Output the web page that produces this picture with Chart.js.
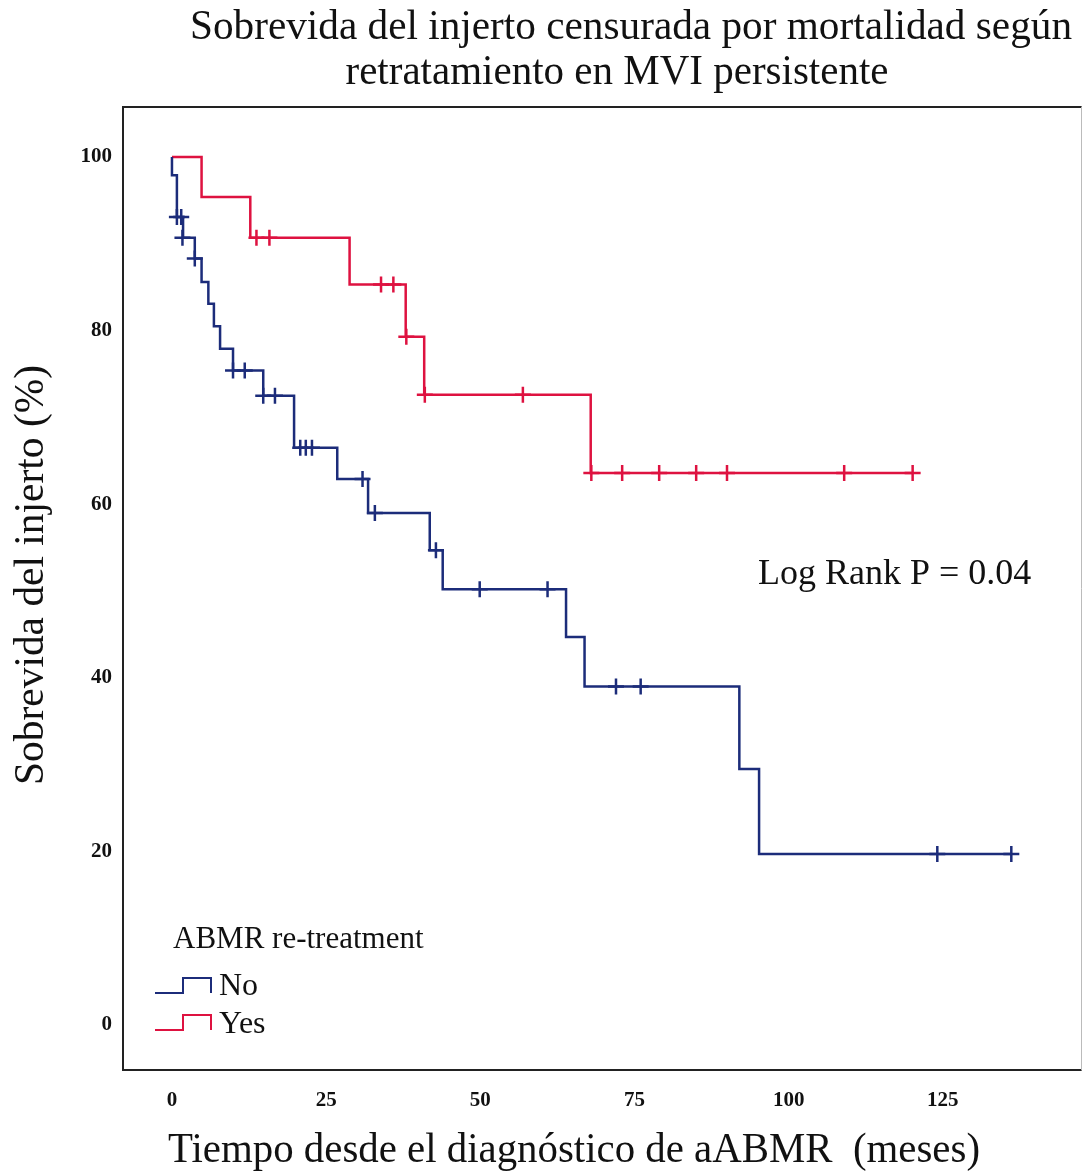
<!DOCTYPE html>
<html>
<head>
<meta charset="utf-8">
<script src="https://cdn.jsdelivr.net/npm/chart.js@4.4.1/dist/chart.umd.min.js"></script>
<style>
  html, body { margin: 0; padding: 0; background: #ffffff; }
  #wrap { width: 1083px; height: 1173px; }
</style>
</head>
<body>
<div id="wrap"><canvas id="km" width="1083" height="1173"></canvas></div>
<script>
// Kaplan-Meier steps: time (months) and graft survival (%) after each event
const noTimes     = [0, 0, 0.8, 1.8, 3.7, 4.8, 5.9, 6.8, 7.8, 9.9, 14.8, 19.8, 26.8, 31.8, 41.8, 43.9, 63.9, 66.9, 92.0, 95.2, 136.1];
const noSurvival  = [100, 97.9, 93.1, 90.7, 88.3, 85.6, 83.1, 80.5, 77.9, 75.4, 72.5, 66.5, 62.9, 59.0, 54.7, 50.2, 44.7, 39.0, 29.5, 19.7, 19.7];
const yesTimes    = [0, 4.8, 12.7, 28.8, 37.9, 40.9, 67.9, 120.1];
const yesSurvival = [100, 95.4, 90.7, 85.3, 79.3, 72.6, 63.6, 63.6];

// Censored observations
const noCensorTimes     = [0.8, 1.5, 1.7, 3.7, 9.9, 11.8, 14.8, 16.7, 20.8, 21.7, 22.7, 30.9, 32.9, 42.8, 49.9, 60.9, 72.0, 76.0, 124.1, 136.1];
const noCensorSurvival  = [93.1, 93.1, 90.7, 88.3, 75.4, 75.4, 72.5, 72.5, 66.5, 66.5, 66.5, 62.9, 59.0, 54.7, 50.2, 50.2, 39.0, 39.0, 19.7, 19.7];
const yesCensorTimes    = [13.7, 15.8, 33.9, 35.9, 38.0, 41.0, 56.9, 68.0, 73.0, 79.0, 85.0, 90.0, 109.0, 120.1];
const yesCensorSurvival = [90.7, 90.7, 85.3, 85.3, 79.3, 72.6, 72.6, 63.6, 63.6, 63.6, 63.6, 63.6, 63.6, 63.6];

// Axis ticks
const xTickValues = [0, 25, 50, 75, 100, 125];
const yTickValues = [0, 20, 40, 60, 80, 100];

const groupLabels = ['No', 'Yes'];

const BLUE = '#1c2c7a';
const RED = '#de1240';
const SERIF = '"Liberation Serif", "Times New Roman", serif';

const toPoints = (xs, ys) => xs.map((x, i) => ({ x: x, y: ys[i] }));

// Titles, frame, legend and annotation drawn on top of the chart
const decorations = {
  id: 'decorations',
  afterDraw(chart) {
    const ctx = chart.ctx;
    const a = chart.chartArea;
    ctx.save();

    // plot frame
    ctx.lineCap = 'square';
    ctx.strokeStyle = '#222';
    ctx.lineWidth = 2;
    ctx.beginPath();
    ctx.moveTo(a.right, a.top);
    ctx.lineTo(a.left, a.top);
    ctx.lineTo(a.left, a.bottom);
    ctx.lineTo(a.right, a.bottom);
    ctx.stroke();
    ctx.strokeStyle = '#bbbbbb';
    ctx.lineWidth = 1;
    ctx.beginPath();
    ctx.moveTo(a.right + 0.5, a.top);
    ctx.lineTo(a.right + 0.5, a.bottom);
    ctx.stroke();

    ctx.fillStyle = '#111';
    ctx.textAlign = 'center';
    ctx.textBaseline = 'middle';

    // chart title
    ctx.font = '43px ' + SERIF;
    ctx.fillText('Sobrevida del injerto censurada por mortalidad según', 631, 28, 882);
    ctx.fillText('retratamiento en MVI persistente', 617, 73, 543);

    // x axis title
    ctx.font = '42px ' + SERIF;
    ctx.fillText('Tiempo desde el diagnóstico de aABMR  (meses)', 574, 1151, 812);

    // y axis title
    ctx.save();
    ctx.translate(32, 575);
    ctx.rotate(-Math.PI / 2);
    ctx.font = '42px ' + SERIF;
    ctx.fillText('Sobrevida del injerto (%)', 0, 0, 420);
    ctx.restore();

    // log-rank annotation
    ctx.textAlign = 'left';
    ctx.font = '36px ' + SERIF;
    ctx.fillText('Log Rank P = 0.04', 758, 575, 277);

    // legend
    ctx.font = '31px ' + SERIF;
    ctx.fillText('ABMR re-treatment', 173, 940, 252);
    const rows = [{ y: 993, c: BLUE, t: groupLabels[0], ty: 987 }, { y: 1030, c: RED, t: groupLabels[1], ty: 1025 }];
    rows.forEach(r => {
      ctx.strokeStyle = r.c;
      ctx.lineWidth = 2;
      ctx.lineCap = 'butt';
      ctx.beginPath();
      ctx.moveTo(155, r.y);
      ctx.lineTo(183, r.y);
      ctx.lineTo(183, r.y - 15);
      ctx.lineTo(211, r.y - 15);
      ctx.lineTo(211, r.y);
      ctx.stroke();
      ctx.fillStyle = '#111';
      ctx.font = '32px ' + SERIF;
      ctx.fillText(r.t, 219, r.ty);
    });

    ctx.restore();
  }
};

new Chart(document.getElementById('km'), {
  type: 'line',
  data: {
    datasets: [
      {
        label: groupLabels[0],
        data: toPoints(noTimes, noSurvival),
        stepped: 'before',
        borderColor: BLUE,
        borderWidth: 2.5,
        pointRadius: 0,
        fill: false
      },
      {
        label: groupLabels[1],
        data: toPoints(yesTimes, yesSurvival),
        stepped: 'before',
        borderColor: RED,
        borderWidth: 2.5,
        pointRadius: 0,
        fill: false
      },
      {
        label: groupLabels[0] + ' censored',
        data: toPoints(noCensorTimes, noCensorSurvival),
        showLine: false,
        pointStyle: 'cross',
        pointRadius: 8,
        pointBorderWidth: 2.5,
        pointBorderColor: BLUE,
        borderColor: BLUE
      },
      {
        label: groupLabels[1] + ' censored',
        data: toPoints(yesCensorTimes, yesCensorSurvival),
        showLine: false,
        pointStyle: 'cross',
        pointRadius: 8,
        pointBorderWidth: 2.5,
        pointBorderColor: RED,
        borderColor: RED
      }
    ]
  },
  options: {
    responsive: false,
    animation: false,
    devicePixelRatio: 1,
    layout: { autoPadding: false, padding: { top: 107, right: 2, left: 0, bottom: 0 } },
    plugins: {
      legend: { display: false },
      title: { display: false },
      tooltip: { enabled: false }
    },
    scales: {
      x: {
        type: 'linear',
        min: -7.94,
        max: 147.4,
        grid: { display: false, drawTicks: false },
        border: { display: false },
        ticks: {
          padding: 18,
          color: '#111',
          font: { family: SERIF, size: 21, weight: 'bold' }
        },
        afterBuildTicks(scale) { scale.ticks = xTickValues.map(v => ({ value: v })); },
        afterFit(scale) { scale.height = 103; }
      },
      y: {
        type: 'linear',
        min: -5.18,
        max: 105.76,
        grid: { display: false, drawTicks: false },
        border: { display: false },
        ticks: {
          padding: 11,
          color: '#111',
          font: { family: SERIF, size: 21, weight: 'bold' }
        },
        afterBuildTicks(scale) { scale.ticks = yTickValues.map(v => ({ value: v })); },
        afterFit(scale) { scale.width = 123; }
      }
    }
  },
  plugins: [decorations]
});
</script>
</body>
</html>
